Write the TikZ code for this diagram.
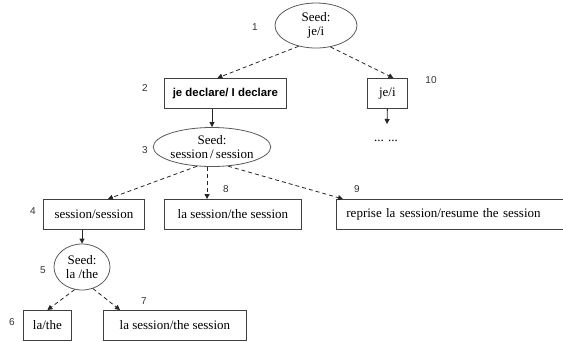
\documentclass[tikz,border=0pt]{standalone}
\usepackage{fontspec}
\setmainfont{Liberation Serif}
\newfontfamily\labelfont{Liberation Sans}
\usetikzlibrary{shapes.geometric,arrows.meta}

\begin{document}
\begin{tikzpicture}[x=1pt, y=-1pt,
	every node/.style={font=\fontsize{13}{13.5}\selectfont, inner sep=0pt},
	seed/.style={ellipse, draw=black!65, line width=0.8pt, align=center},
	pair/.style={rectangle, draw=black!75, line width=0.8pt, minimum height=30pt, anchor=north west},
	num/.style={font=\labelfont\fontsize{10}{10}\selectfont, text=black!80},
	link/.style={-{Triangle[length=5pt,width=5pt]}, black!85, line width=0.8pt},
	seedlink/.style={link, dash pattern=on 4pt off 3pt}]
	\useasboundingbox (0,0) rectangle (563,341);
	\node[seed, minimum width=82pt, minimum height=45pt] (seedje) at (316,25.5) {Seed:\\je/i};
	\node[pair, minimum width=122pt, font=\labelfont\bfseries\fontsize{11.4}{12}\selectfont] (declare) at (164,78) {je declare/ I declare};
	\node[pair, minimum width=40pt] (jei) at (367,78) {je/i};
	\coordinate (jeiend) at (387,124);
	\node (more) at (386,141) {... ...};
	\node[seed, minimum width=114pt, minimum height=39pt] (seedsess) at (212,147) {Seed:\\session\,/\,session};
	\node[pair, minimum width=101pt] (sess) at (43,199) {session/session};
	\node[pair, minimum width=137pt] (lasess) at (164,199) {la session/the session};
	\node[pair, text width=220pt, inner xsep=10pt, align=left] (reprise) at (336,199) {reprise la session/resume the session};
	\node[seed, minimum width=56pt, minimum height=46pt] (seedla) at (82,267) {Seed:\\la /the};
	\node[pair, minimum width=48pt] (lathe) at (23,310) {la/the};
	\node[pair, minimum width=143pt] (lasessb) at (103,310) {la session/the session};
	\draw[seedlink] (seedje.230) -- ([xshift=-8pt]declare.north);
	\draw[seedlink] (seedje.304) -- ([xshift=6pt]jei.north);
	\draw[link] (declare.south -| seedsess.north) -- (seedsess.north);
	\draw[link] (jei.south) -- (jeiend);
	\draw[seedlink] (seedsess.232) -- ([xshift=14pt]sess.north);
	\draw[seedlink] (seedsess.256) -- (seedsess.256 |- lasess.north);
	\draw[seedlink] (seedsess.310) -- ([xshift=7pt]reprise.north west);
	\draw[link] (sess.south -| seedla.north) -- (seedla.north);
	\draw[seedlink] (seedla.252) -- (lathe.north);
	\draw[seedlink] (seedla.297) -- ([xshift=17pt]lasessb.north west);
	\node[num] (n1) at (255,27) {1};
	\node[num] (n2) at (145,88) {2};
	\node[num] (n3) at (145,150) {3};
	\node[num] (n4) at (33,211) {4};
	\node[num] (n5) at (43,270) {5};
	\node[num] (n6) at (12,322) {6};
	\node[num] (n7) at (144,301) {7};
	\node[num] (n8) at (226,189) {8};
	\node[num] (n9) at (357,189) {9};
	\node[num] (n10) at (431,80) {10};
\end{tikzpicture}
\end{document}
